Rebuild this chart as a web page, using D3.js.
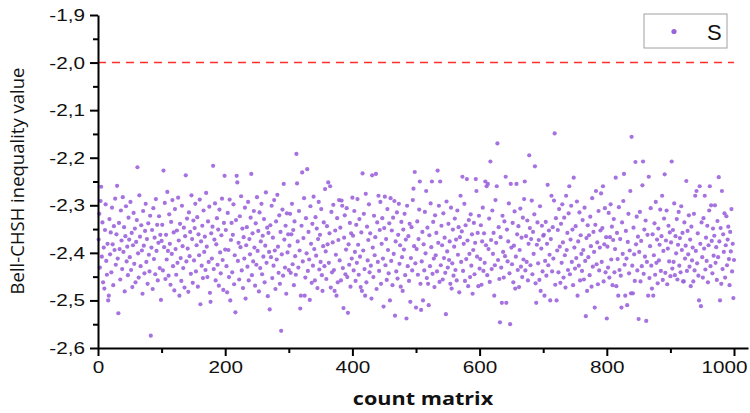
<!DOCTYPE html>
<html>
<head>
<meta charset="utf-8">
<script src="https://cdn.jsdelivr.net/npm/d3@7"></script>
<style>
  html, body { margin: 0; padding: 0; background: #fff; }
  svg { display: block; }
</style>
</head>
<body>
<svg id="chart" width="750" height="413"></svg>
<script>
// Measured S value of the Bell-CHSH inequality for each count matrix (1..1000)
const sValues = [
  -2.372,-2.318,-2.431,-2.291,-2.261,-2.408,-2.336,-2.462,-2.389,-2.475,
  -2.352,-2.298,-2.417,-2.446,-2.381,-2.50,-2.49,-2.329,-2.403,-2.357,
  -2.441,-2.305,-2.382,-2.468,-2.344,-2.394,-2.286,-2.425,-2.361,-2.259,
  -2.412,-2.527,-2.337,-2.392,-2.456,-2.311,-2.374,-2.434,-2.283,-2.398,
  -2.346,-2.481,-2.365,-2.302,-2.418,-2.387,-2.447,-2.326,-2.372,-2.409,
  -2.293,-2.436,-2.358,-2.472,-2.384,-2.316,-2.423,-2.349,-2.462,-2.377,
  -2.331,-2.22,-2.401,-2.452,-2.279,-2.366,-2.428,-2.342,-2.395,-2.486,
  -2.312,-2.385,-2.443,-2.354,-2.297,-2.419,-2.371,-2.465,-2.338,-2.404,
  -2.439,-2.322,-2.574,-2.389,-2.352,-2.476,-2.306,-2.413,-2.368,-2.445,
  -2.287,-2.396,-2.341,-2.458,-2.379,-2.323,-2.432,-2.362,-2.499,-2.375,

  -2.341,-2.437,-2.227,-2.388,-2.295,-2.455,-2.362,-2.414,-2.272,-2.396,
  -2.448,-2.319,-2.381,-2.467,-2.335,-2.402,-2.289,-2.428,-2.357,-2.479,
  -2.308,-2.392,-2.446,-2.353,-2.421,-2.284,-2.374,-2.49,-2.339,-2.411,
  -2.459,-2.301,-2.386,-2.432,-2.347,-2.473,-2.365,-2.237,-2.418,-2.328,
  -2.391,-2.482,-2.315,-2.407,-2.356,-2.444,-2.279,-2.371,-2.463,-2.332,
  -2.416,-2.348,-2.297,-2.439,-2.384,-2.325,-2.471,-2.361,-2.405,-2.288,
  -2.508,-2.376,-2.427,-2.343,-2.453,-2.311,-2.398,-2.366,-2.436,-2.274,
  -2.387,-2.451,-2.334,-2.419,-2.303,-2.484,-2.503,-2.359,-2.412,-2.345,
  -2.217,-2.434,-2.372,-2.296,-2.458,-2.382,-2.327,-2.425,-2.351,-2.469,
  -2.309,-2.399,-2.443,-2.363,-2.286,-2.415,-2.478,-2.337,-2.238,-2.393,

  -2.352,-2.428,-2.483,-2.316,-2.394,-2.451,-2.288,-2.50,-2.373,-2.337,
  -2.441,-2.362,-2.298,-2.466,-2.405,-2.525,-2.331,-2.238,-2.252,-2.417,
  -2.379,-2.456,-2.323,-2.388,-2.281,-2.437,-2.349,-2.474,-2.367,-2.412,
  -2.305,-2.496,-2.384,-2.346,-2.429,-2.293,-2.458,-2.371,-2.403,-2.326,
  -2.234,-2.447,-2.359,-2.418,-2.312,-2.389,-2.469,-2.338,-2.425,-2.283,
  -2.396,-2.354,-2.481,-2.315,-2.432,-2.376,-2.297,-2.445,-2.364,-2.408,
  -2.329,-2.462,-2.385,-2.273,-2.421,-2.347,-2.491,-2.358,-2.398,-2.519,
  -2.342,-2.409,-2.301,-2.453,-2.368,-2.427,-2.289,-2.395,-2.476,-2.334,
  -2.414,-2.278,-2.387,-2.442,-2.321,-2.465,-2.356,-2.564,-2.403,-2.309,
  -2.448,-2.255,-2.372,-2.431,-2.343,-2.486,-2.317,-2.399,-2.361,-2.436,

  -2.385,-2.318,-2.442,-2.361,-2.297,-2.424,-2.352,-2.468,-2.334,-2.407,
  -2.446,-2.192,-2.254,-2.376,-2.431,-2.312,-2.395,-2.517,-2.49,-2.343,
  -2.231,-2.418,-2.369,-2.285,-2.49,-2.452,-2.327,-2.401,-2.224,-2.438,
  -2.356,-2.414,-2.499,-2.302,-2.381,-2.463,-2.339,-2.427,-2.282,-2.392,
  -2.458,-2.325,-2.406,-2.349,-2.474,-2.371,-2.293,-2.435,-2.362,-2.419,
  -2.308,-2.447,-2.48,-2.386,-2.336,-2.428,-2.266,-2.397,-2.455,-2.344,
  -2.382,-2.252,-2.421,-2.359,-2.26,-2.473,-2.314,-2.441,-2.378,-2.299,
  -2.436,-2.48,-2.353,-2.404,-2.49,-2.327,-2.462,-2.373,-2.289,-2.416,
  -2.347,-2.458,-2.29,-2.301,-2.432,-2.516,-2.368,-2.321,-2.445,-2.393,
  -2.306,-2.451,-2.526,-2.382,-2.425,-2.337,-2.471,-2.359,-2.412,-2.284,

  -2.364,-2.437,-2.312,-2.398,-2.459,-2.341,-2.421,-2.287,-2.383,-2.446,
  -2.329,-2.408,-2.472,-2.357,-2.48,-2.233,-2.395,-2.318,-2.434,-2.49,
  -2.276,-2.462,-2.345,-2.416,-2.373,-2.298,-2.441,-2.359,-2.427,-2.496,
  -2.237,-2.389,-2.451,-2.322,-2.405,-2.367,-2.234,-2.476,-2.336,-2.419,
  -2.28,-2.438,-2.352,-2.293,-2.465,-2.381,-2.327,-2.412,-2.513,-2.348,
  -2.282,-2.426,-2.371,-2.457,-2.308,-2.394,-2.443,-2.338,-2.5,-2.285,
  -2.417,-2.353,-2.468,-2.326,-2.402,-2.291,-2.532,-2.376,-2.439,-2.315,
  -2.454,-2.362,-2.297,-2.423,-2.384,-2.471,-2.335,-2.409,-2.48,-2.351,
  -2.393,-2.318,-2.447,-2.372,-2.538,-2.301,-2.428,-2.365,-2.459,-2.339,
  -2.503,-2.411,-2.346,-2.437,-2.289,-2.265,-2.386,-2.23,-2.422,-2.515,

  -2.392,-2.334,-2.446,-2.371,-2.309,-2.25,-2.465,-2.52,-2.418,-2.356,
  -2.50,-2.382,-2.437,-2.314,-2.401,-2.27,-2.453,-2.347,-2.465,-2.51,
  -2.363,-2.428,-2.296,-2.388,-2.25,-2.444,-2.335,-2.412,-2.472,-2.321,
  -2.405,-2.358,-2.439,-2.227,-2.379,-2.301,-2.461,-2.25,-2.426,-2.343,
  -2.384,-2.456,-2.317,-2.411,-2.368,-2.442,-2.529,-2.292,-2.397,-2.431,
  -2.339,-2.415,-2.376,-2.465,-2.305,-2.475,-2.422,-2.351,-2.448,-2.387,
  -2.328,-2.436,-2.372,-2.458,-2.311,-2.404,-2.346,-2.483,-2.367,-2.28,
  -2.419,-2.355,-2.24,-2.438,-2.381,-2.297,-2.459,-2.342,-2.413,-2.245,
  -2.374,-2.47,-2.331,-2.402,-2.451,-2.319,-2.427,-2.361,-2.486,-2.394,
  -2.337,-2.445,-2.379,-2.245,-2.27,-2.408,-2.358,-2.47,-2.322,-2.433,

  -2.413,-2.342,-2.467,-2.376,-2.305,-2.438,-2.359,-2.421,-2.25,-2.384,
  -2.26,-2.447,-2.255,-2.392,-2.328,-2.461,-2.208,-2.373,-2.434,-2.311,
  -2.402,-2.358,-2.49,-2.426,-2.289,-2.379,-2.26,-2.17,-2.415,-2.346,
  -2.455,-2.546,-2.367,-2.431,-2.505,-2.322,-2.398,-2.452,-2.334,-2.407,
  -2.24,-2.505,-2.351,-2.418,-2.376,-2.296,-2.443,-2.55,-2.255,-2.389,
  -2.424,-2.337,-2.462,-2.385,-2.313,-2.475,-2.408,-2.255,-2.361,-2.436,
  -2.344,-2.472,-2.394,-2.307,-2.429,-2.368,-2.451,-2.326,-2.414,-2.287,
  -2.25,-2.437,-2.365,-2.419,-2.332,-2.458,-2.381,-2.195,-2.348,-2.426,
  -2.371,-2.29,-2.445,-2.356,-2.402,-2.319,-2.218,-2.464,-2.505,-2.383,
  -2.336,-2.422,-2.373,-2.457,-2.302,-2.48,-2.391,-2.343,-2.439,-2.364,

  -2.362,-2.49,-2.417,-2.335,-2.448,-2.381,-2.257,-2.426,-2.353,-2.404,
  -2.50,-2.371,-2.28,-2.439,-2.346,-2.412,-2.29,-2.149,-2.467,-2.327,
  -2.50,-2.395,-2.352,-2.441,-2.308,-2.387,-2.463,-2.339,-2.421,-2.298,
  -2.378,-2.452,-2.326,-2.405,-2.473,-2.28,-2.394,-2.358,-2.436,-2.317,
  -2.26,-2.445,-2.372,-2.301,-2.419,-2.351,-2.468,-2.242,-2.389,-2.433,
  -2.344,-2.411,-2.292,-2.49,-2.376,-2.427,-2.315,-2.458,-2.363,-2.402,
  -2.438,-2.331,-2.394,-2.456,-2.305,-2.417,-2.533,-2.369,-2.48,-2.342,
  -2.409,-2.363,-2.447,-2.324,-2.386,-2.471,-2.285,-2.429,-2.356,-2.398,
  -2.515,-2.341,-2.27,-2.424,-2.378,-2.466,-2.312,-2.437,-2.389,-2.353,
  -2.275,-2.419,-2.348,-2.26,-2.46,-2.382,-2.306,-2.441,-2.367,-2.538,

  -2.387,-2.431,-2.316,-2.452,-2.367,-2.298,-2.414,-2.345,-2.468,-2.373,
  -2.329,-2.441,-2.392,-2.242,-2.47,-2.358,-2.413,-2.49,-2.304,-2.436,
  -2.371,-2.448,-2.515,-2.336,-2.402,-2.291,-2.234,-2.425,-2.49,-2.354,
  -2.412,-2.51,-2.377,-2.318,-2.443,-2.395,-2.27,-2.485,-2.156,-2.427,
  -2.485,-2.347,-2.403,-2.459,-2.209,-2.382,-2.324,-2.437,-2.366,-2.539,
  -2.398,-2.314,-2.46,-2.375,-2.428,-2.258,-2.208,-2.444,-2.351,-2.408,
  -2.332,-2.543,-2.419,-2.362,-2.49,-2.24,-2.453,-2.386,-2.306,-2.427,
  -2.475,-2.361,-2.49,-2.405,-2.338,-2.446,-2.293,-2.421,-2.372,-2.464,
  -2.349,-2.416,-2.383,-2.309,-2.438,-2.365,-2.28,-2.457,-2.396,-2.328,
  -2.235,-2.442,-2.374,-2.311,-2.466,-2.391,-2.343,-2.418,-2.357,-2.449,

  -2.378,-2.208,-2.433,-2.352,-2.419,-2.296,-2.447,-2.365,-2.401,-2.329,
  -2.456,-2.383,-2.314,-2.427,-2.369,-2.441,-2.302,-2.394,-2.358,-2.46,
  -2.46,-2.336,-2.412,-2.385,-2.249,-2.438,-2.354,-2.403,-2.321,-2.429,
  -2.372,-2.47,-2.345,-2.416,-2.389,-2.46,-2.318,-2.437,-2.28,-2.396,
  -2.27,-2.422,-2.359,-2.448,-2.50,-2.26,-2.381,-2.512,-2.336,-2.409,
  -2.452,-2.327,-2.391,-2.28,-2.435,-2.368,-2.417,-2.343,-2.462,-2.384,
  -2.311,-2.26,-2.428,-2.30,-2.375,-2.443,-2.349,-2.406,-2.364,-2.30,
  -2.421,-2.388,-2.457,-2.333,-2.409,-2.241,-2.376,-2.50,-2.348,-2.465,
  -2.27,-2.434,-2.361,-2.398,-2.317,-2.452,-2.384,-2.323,-2.426,-2.372,
  -2.345,-2.413,-2.468,-2.356,-2.397,-2.308,-2.439,-2.381,-2.495,-2.415
];

// Classical (local hidden variable) bound |S| = 2
const classicalBound = -2.0;
const boundSpan = [0, 1000];

// Axis ticks
const xMajorTicks = [0, 200, 400, 600, 800, 1000];
const xMinorTicks = [100, 300, 500, 700, 900];
const yMajorTicks = [-1.9, -2.0, -2.1, -2.2, -2.3, -2.4, -2.5, -2.6];
const yMinorTicks = [-1.95, -2.05, -2.15, -2.25, -2.35, -2.45, -2.55];

const seriesName = "S";
const xTitle = "count matrix";
const yTitle = "Bell-CHSH inequality value";

const svg = d3.select("#chart");
const plotLeft = 98, plotRight = 748, plotTop = 15, plotBottom = 348;
const canvasWidth = 750;

const x = d3.scaleLinear().domain([0, 1022]).range([plotLeft, plotRight]);
const y = d3.scaleLinear().domain([-2.6, -1.9]).range([plotBottom, plotTop]);

const fmt = d => d3.format(".1f")(d).replace(".", ",").replace("\u2212", "-");
const tickFont = "'Liberation Sans', Arial, sans-serif";
const labelStretch = 1.22;   // wide tick lettering

// points
const pointColor = "#9b63db";
svg.append("g")
  .selectAll("circle")
  .data(sValues)
  .join("circle")
  .attr("cx", (d, i) => x(i + 1))
  .attr("cy", d => y(d))
  .attr("r", 2.1)
  .attr("fill", pointColor)
  .attr("fill-opacity", 0.9);

// classical bound
svg.append("line")
  .attr("x1", x(boundSpan[0])).attr("x2", x(boundSpan[1]))
  .attr("y1", y(classicalBound)).attr("y2", y(classicalBound))
  .attr("stroke", "#ff2f2f")
  .attr("stroke-width", 1.5)
  .attr("stroke-dasharray", "8,6");

// x axis
const xAxis = svg.append("g").attr("transform", `translate(0,${plotBottom})`);
xAxis.call(d3.axisBottom(x).tickValues(xMajorTicks).tickSize(8).tickSizeOuter(0).tickPadding(5).tickFormat(d3.format("d")));
xAxis.append("g").call(d3.axisBottom(x).tickValues(xMinorTicks).tickSize(5).tickSizeOuter(0).tickFormat(""))
  .select(".domain").remove();
xAxis.selectAll(".domain").attr("stroke", "#000").attr("stroke-width", 2);
xAxis.selectAll(".tick line").attr("stroke", "#000").attr("stroke-width", 2);
xAxis.selectAll(".tick text")
  .attr("font-family", tickFont).attr("font-size", 17).attr("fill", "#111")
  .attr("transform", `scale(${labelStretch},1)`)
  .each(function(d) {
    // keep the last label inside the canvas
    const t = d3.select(this);
    const half = this.getBBox().width * labelStretch / 2;
    const overflow = x(d) + half - (canvasWidth - 3);
    t.attr("x", overflow > 0 ? -overflow / labelStretch : 0);
  });

// y axis
const yAxis = svg.append("g").attr("transform", `translate(${plotLeft},0)`);
yAxis.call(d3.axisLeft(y).tickValues(yMajorTicks).tickSize(8).tickSizeOuter(0).tickPadding(5).tickFormat(fmt));
yAxis.append("g").call(d3.axisLeft(y).tickValues(yMinorTicks).tickSize(5).tickSizeOuter(0).tickFormat(""))
  .select(".domain").remove();
yAxis.selectAll(".domain").attr("stroke", "#000").attr("stroke-width", 2);
yAxis.selectAll(".tick line").attr("stroke", "#000").attr("stroke-width", 2);
yAxis.selectAll(".tick text")
  .attr("font-family", tickFont).attr("font-size", 17).attr("fill", "#111")
  .attr("transform", `scale(${labelStretch},1)`)
  .attr("x", -13 / labelStretch);

// axis titles
svg.append("text")
  .attr("transform", "translate(423,405) scale(1.2,1)")
  .attr("text-anchor", "middle")
  .attr("font-family", "'Open Sans', sans-serif")
  .attr("font-weight", "bold")
  .attr("font-size", 18)
  .attr("fill", "#111")
  .text(xTitle);

svg.append("text")
  .attr("transform", "translate(24,181) rotate(-90)")
  .attr("text-anchor", "middle")
  .attr("font-family", "'Open Sans', sans-serif")
  .attr("font-size", 18.5)
  .attr("fill", "#111")
  .text(yTitle);

// legend
const legend = svg.append("g");
legend.append("rect")
  .attr("x", 644).attr("y", 14).attr("width", 83).attr("height", 34)
  .attr("fill", "#fff").attr("stroke", "#a0a0a0").attr("stroke-width", 1);
legend.append("circle")
  .attr("cx", 674).attr("cy", 31.5).attr("r", 2.6)
  .attr("fill", pointColor);
legend.append("text")
  .attr("x", 707).attr("y", 39.5)
  .attr("font-family", tickFont)
  .attr("font-size", 22)
  .attr("fill", "#111")
  .text(seriesName);
</script>
</body>
</html>
